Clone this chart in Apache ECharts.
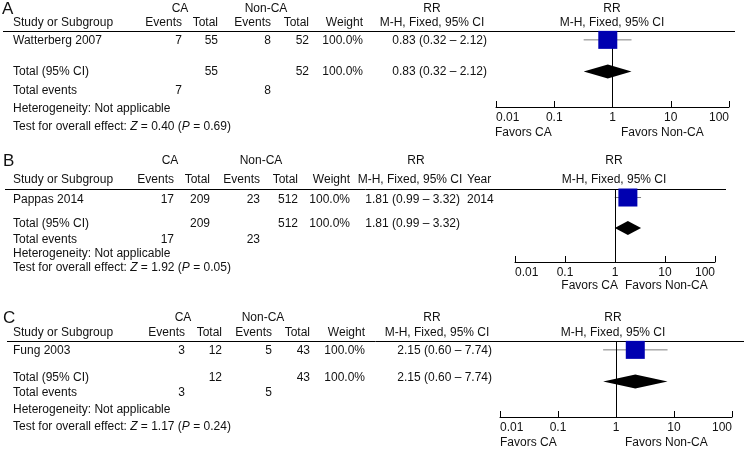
<!DOCTYPE html>
<html>
<head>
<meta charset="utf-8">
<script src="https://cdn.jsdelivr.net/npm/echarts@6/dist/echarts.min.js"></script>
<style>
  html, body { margin: 0; padding: 0; background: #fff; }
  #main { width: 744px; height: 450px; }
</style>
</head>
<body>
<div id="main"></div>
<script>
  // data
  const panelLabels = ['A', 'B', 'C'];
  const studies = ['Watterberg 2007', 'Pappas 2014', 'Fung 2003'];
  const years = ['', '2014', ''];
  const caEvents = [7, 17, 3];
  const caTotal = [55, 209, 12];
  const nonEvents = [8, 23, 5];
  const nonTotal = [52, 512, 43];
  const weights = ['100.0%', '100.0%', '100.0%'];
  const rr = [0.83, 1.81, 2.15];
  const rrLow = [0.32, 0.99, 0.60];
  const rrHigh = [2.12, 3.32, 7.74];
  const zStat = ['0.40', '1.92', '1.17'];
  const pVal = ['0.69', '0.05', '0.24'];
  const tickLabels = ['0.01', '0.1', '1', '10', '100'];

  const FONT = '"Liberation Sans", Arial, sans-serif';
  const INK = '#111';

  // layout of each panel (pixels)
  const panels = [
    { top: 31, h: 76, axL: 496, axR: 729, line: [3, 735], lx: 2,
      yLab: 9, yHead: 23, yStudy: 41, yTotal: 72, yEv: 91, yHet: 109, yTest: 127, yFav: 133,
      e1: 182, t1: 218, e2: 271, t2: 309, w: 363, rrR: 487, rrX: 432, rrHX: 432, caX: 180, nonX: 266,
      plotX: 612, favCA: [495, 'left'], favNon: 621 },
    { top: 189, h: 73, axL: 515, axR: 715, line: [5, 726], lx: 3,
      yLab: 161, yHead: 180, yStudy: 200, yTotal: 224, yEv: 240, yHet: 254, yTest: 268, yFav: 286,
      e1: 174, t1: 210, e2: 260, t2: 298, w: 350, rrR: 460, rrX: 410, rrHX: 416, caX: 170, nonX: 261, yr: 467,
      plotX: 614, favCA: [618, 'right'], favNon: 625 },
    { top: 341, h: 76, axL: 500, axR: 732, line: [7, 744], lx: 3,
      yLab: 318, yHead: 333, yStudy: 351, yTotal: 378, yEv: 393, yHet: 410, yTest: 427, yFav: 443,
      e1: 185, t1: 222, e2: 272, t2: 310, w: 365, rrR: 492, rrX: 437, rrHX: 432, caX: 183, nonX: 263,
      plotX: 613, favCA: [500, 'left'], favNon: 625 }
  ];

  function txt (x, y, s, align, size) {
    const fs = size || 12;
    return {
      type: 'text', x: x, y: y, silent: true,
      style: {
        text: s, fill: INK, fontSize: fs, fontFamily: FONT,
        font: fs + 'px ' + FONT,
        align: align || 'left', verticalAlign: 'middle',
        textAlign: align || 'left', textVerticalAlign: 'middle',
        rich: { i: { fontStyle: 'italic', fontSize: fs, fontFamily: FONT, fill: INK } }
      }
    };
  }

  const ci = i => rr[i].toFixed(2) + ' (' + rrLow[i].toFixed(2) + ' \u2013 ' + rrHigh[i].toFixed(2) + ')';

  const graphic = [];
  const grid = [], xAxis = [], yAxis = [], series = [];

  panels.forEach((p, i) => {
    // table
    graphic.push(txt(p.lx, p.yLab, panelLabels[i], 'left', 17));
    graphic.push(txt(p.caX, p.yLab, 'CA', 'center'));
    graphic.push(txt(p.nonX, p.yLab, 'Non-CA', 'center'));
    graphic.push(txt(p.rrHX, p.yLab, 'RR', 'center'));
    graphic.push(txt(p.plotX, p.yLab, 'RR', 'center'));
    graphic.push(txt(13, p.yHead, 'Study or Subgroup'));
    graphic.push(txt(p.e1, p.yHead, 'Events', 'right'));
    graphic.push(txt(p.t1, p.yHead, 'Total', 'right'));
    graphic.push(txt(p.e2, p.yHead, 'Events', 'right'));
    graphic.push(txt(p.t2, p.yHead, 'Total', 'right'));
    graphic.push(txt(p.w, p.yHead, 'Weight', 'right'));
    graphic.push(txt(p.rrX, p.yHead, 'M-H, Fixed, 95% CI', 'center'));
    graphic.push(txt(p.plotX, p.yHead, 'M-H, Fixed, 95% CI', 'center'));
    if (p.yr) graphic.push(txt(p.yr, p.yHead, 'Year'));
    graphic.push({
      type: 'line', silent: true,
      shape: { x1: p.line[0], y1: p.top + 0.5, x2: p.line[1], y2: p.top + 0.5 },
      style: { stroke: '#000', lineWidth: 1 }
    });

    graphic.push(txt(13, p.yStudy, studies[i]));
    graphic.push(txt(p.e1, p.yStudy, String(caEvents[i]), 'right'));
    graphic.push(txt(p.t1, p.yStudy, String(caTotal[i]), 'right'));
    graphic.push(txt(p.e2, p.yStudy, String(nonEvents[i]), 'right'));
    graphic.push(txt(p.t2, p.yStudy, String(nonTotal[i]), 'right'));
    graphic.push(txt(p.w, p.yStudy, weights[i], 'right'));
    graphic.push(txt(p.rrR, p.yStudy, ci(i), 'right'));
    if (p.yr) graphic.push(txt(p.yr, p.yStudy, years[i]));

    graphic.push(txt(13, p.yTotal, 'Total (95% CI)'));
    graphic.push(txt(p.t1, p.yTotal, String(caTotal[i]), 'right'));
    graphic.push(txt(p.t2, p.yTotal, String(nonTotal[i]), 'right'));
    graphic.push(txt(p.w, p.yTotal, weights[i], 'right'));
    graphic.push(txt(p.rrR, p.yTotal, ci(i), 'right'));

    graphic.push(txt(13, p.yEv, 'Total events'));
    graphic.push(txt(p.e1, p.yEv, String(caEvents[i]), 'right'));
    graphic.push(txt(p.e2, p.yEv, String(nonEvents[i]), 'right'));
    graphic.push(txt(13, p.yHet, 'Heterogeneity: Not applicable'));
    graphic.push(txt(13, p.yTest, 'Test for overall effect: {i|Z} = ' + zStat[i] + ' ({i|P} = ' + pVal[i] + ')'));

    graphic.push(txt(p.favCA[0], p.yFav, 'Favors CA', p.favCA[1]));
    graphic.push(txt(p.favNon, p.yFav, 'Favors Non-CA'));

    // plot
    grid.push({ left: p.axL, top: p.top, width: p.axR - p.axL, height: p.h, outerBoundsMode: 'none' });
    xAxis.push({
      type: 'log', gridIndex: i, logBase: 10, min: 0.01, max: 100,
      axisLine: { onZero: false, lineStyle: { color: '#000', width: 1 } },
      axisTick: { inside: true, length: 6, lineStyle: { color: '#000' } },
      splitLine: { show: false }, minorTick: { show: false },
      axisLabel: {
        color: INK, fontSize: 12, fontFamily: FONT, margin: 5,
        alignMinLabel: 'left', alignMaxLabel: 'right',
        formatter: (v, idx) => tickLabels[idx]
      }
    });
    yAxis.push({ type: 'value', gridIndex: i, inverse: true, min: -0.28, max: 2.12, show: false });

    series.push({
      type: 'line', xAxisIndex: i, yAxisIndex: i, z: 2,
      data: [[rrLow[i], 0], [rrHigh[i], 0]],
      symbol: 'none', lineStyle: { color: '#7f7f7f', width: 1 },
      markLine: {
        silent: true, symbol: ['none', 'none'], label: { show: false },
        lineStyle: { color: '#000', type: 'solid', width: 1 },
        data: [{ xAxis: 1 }]
      }
    });
    series.push({
      type: 'scatter', xAxisIndex: i, yAxisIndex: i, z: 5,
      data: [[rr[i], 0]], symbol: 'rect', symbolSize: [19, 18],
      itemStyle: { color: '#0000b0', opacity: 1 }
    });
    series.push({
      type: 'custom', xAxisIndex: i, yAxisIndex: i, z: 5,
      data: [[rrLow[i], rr[i], rrHigh[i], 1]],
      encode: { x: [0, 1, 2], y: 3 },
      renderItem: (params, api) => {
        const lo = api.coord([api.value(0), api.value(3)]);
        const mid = api.coord([api.value(1), api.value(3)]);
        const hi = api.coord([api.value(2), api.value(3)]);
        return {
          type: 'polygon',
          shape: { points: [lo, [mid[0], mid[1] - 7], hi, [mid[0], mid[1] + 7]] },
          style: { fill: '#000' }
        };
      }
    });
  });

  const chart = echarts.init(document.getElementById('main'));
  chart.setOption({
    animation: false,
    backgroundColor: '#fff',
    textStyle: { fontFamily: FONT },
    grid: grid,
    xAxis: xAxis,
    yAxis: yAxis,
    series: series,
    graphic: graphic
  });
</script>
</body>
</html>
